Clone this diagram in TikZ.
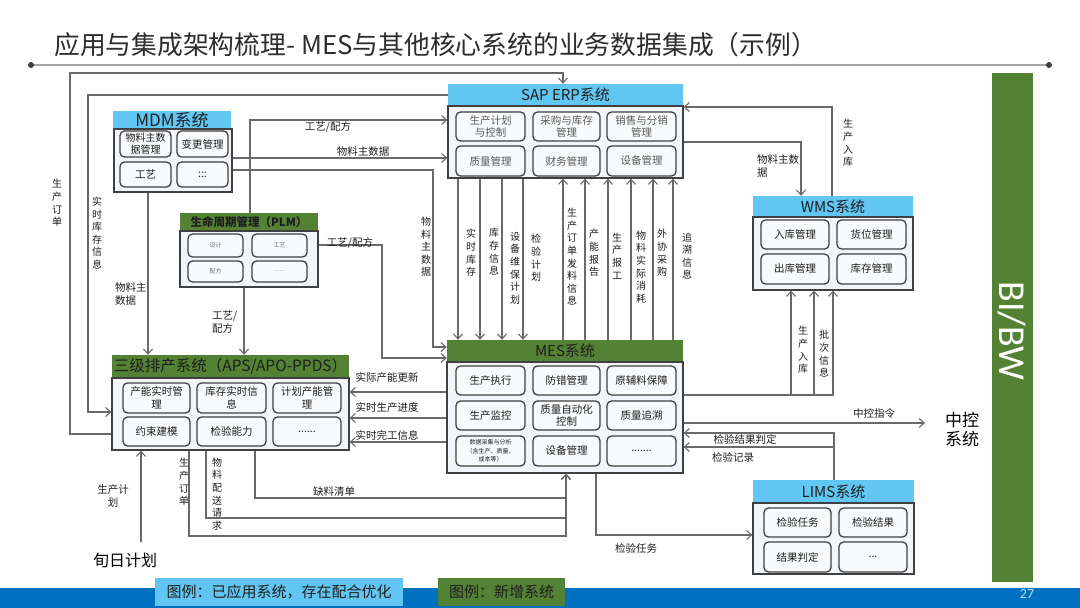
\documentclass[tikz,border=0pt]{standalone}
\usepackage{fontspec}
\setmainfont{Noto Sans CJK SC}
\newfontfamily\latinf{Carlito}
\usetikzlibrary{arrows.meta}
\definecolor{hblue}{RGB}{98,198,243}
\definecolor{hgreen}{RGB}{84,130,53}
\definecolor{bodyf}{RGB}{242,245,250}
\definecolor{bordc}{RGB}{64,64,64}
\definecolor{linec}{RGB}{105,105,105}
\definecolor{txtc}{RGB}{30,30,30}
\definecolor{erptxt}{RGB}{90,90,90}
\definecolor{bbar}{RGB}{0,112,192}
\definecolor{titc}{RGB}{45,45,45}
\tikzset{
 hdr/.style={inner sep=0pt, align=center, text=txtc},
 hb/.style={hdr, fill=hblue},
 hg/.style={hdr, fill=hgreen},
 bodybox/.style={draw=bordc, fill=bodyf, line width=1.3pt},
 subbox/.style={draw=bordc, fill=white!45!bodyf, rounded corners=4.5pt, line width=1.3pt, inner sep=0pt, align=center, text=txtc, font=\fontsize{10.5}{12.5}\selectfont},
 arr/.style={draw=linec, line width=1.1pt, -{Straight Barb[length=5pt,width=9pt]}},
 lab/.style={inner sep=0pt, text=txtc, align=center, font=\fontsize{10.5}{13}\selectfont},
 vlab/.style={inner sep=0pt, text=txtc, align=center, font=\fontsize{10}{12.6}\selectfont},
}
\newcommand\bx[7]{\node[#1, minimum width={(#4)-(#2)}, minimum height={(#5)-(#3)}] (#6) at ({((#2)+(#4))/2},{((#3)+(#5))/2}) {#7};}
\begin{document}
\begin{tikzpicture}[x=1pt,y=-1pt]
\useasboundingbox (0,0) rectangle (1080,608);
\fill[white] (0,0) rectangle (1080,608);
% title
\node[anchor=west, inner sep=0pt, text=titc, font=\fontsize{25.8}{26}\selectfont] (title) at (54,45) {应用与集成架构梳理- MES与其他核心系统的业务数据集成（示例）};
\draw[line width=1.6pt, color=black!35] (31,65) -- (1049,65);
\fill[bordc] (31,65) circle (3pt) (1049,65) circle (3pt);
% bottom bar
\fill[bbar] (0,588) rectangle (1080,608);
\node[inner sep=0pt, text=white!75!bbar, font=\latinf\fontsize{14}{14}\selectfont] (pg) at (1027,594) {27};
\bx{hb, font=\fontsize{15}{15}\selectfont}{155}{578}{403}{606}{leg1}{图例：已应用系统，存在配合优化}
\bx{hg, font=\fontsize{15}{15}\selectfont}{438}{578}{565}{606}{leg2}{图例：新增系统}
% BI/BW
\fill[hgreen] (992,73) rectangle (1033,582);
\node[rotate=-90, inner sep=0pt, text=white, font=\latinf\fontsize{38}{38}\selectfont] (bibw) at (1012,331) {BI/BW};
% MDM
\bx{hb, font=\fontsize{17}{17}\selectfont}{113}{111}{231}{129}{mdmh}{MDM系统}
\bx{bodybox}{114}{129}{232}{192}{mdm}{}
\bx{subbox, font=\fontsize{10}{12}\selectfont}{120}{131}{171}{157}{m1}{物料主数\\据管理}
\bx{subbox}{177}{131}{228}{157}{m2}{变更管理}
\bx{subbox}{120}{162}{171}{187}{m3}{工艺}
\bx{subbox}{177}{162}{228}{187}{m4}{:::}
% PLM
\bx{hg, font=\bfseries\fontsize{11.5}{12}\selectfont}{180}{213}{318}{231}{plmh}{生命周期管理（PLM）}
\bx{bodybox}{180}{231}{318}{287}{plm}{}
\bx{subbox, text=black!55, font=\fontsize{6}{7}\selectfont}{188}{234}{243}{257}{p1}{设计}
\bx{subbox, text=black!55, font=\fontsize{6}{7}\selectfont}{252}{234}{307}{257}{p2}{工艺}
\bx{subbox, text=black!55, font=\fontsize{6}{7}\selectfont}{188}{261}{243}{282}{p3}{配方}
\bx{subbox, text=black!55, font=\fontsize{6}{7}\selectfont}{252}{261}{307}{282}{p4}{......}
% ERP
\bx{hb, font=\fontsize{15}{15}\selectfont}{448}{84}{683}{106}{erph}{SAP ERP系统}
\bx{bodybox}{448}{106}{683}{178}{erp}{}
\bx{subbox, text=erptxt}{456}{112}{525}{141}{e1}{生产计划\\与控制}
\bx{subbox, text=erptxt}{533}{112}{600}{141}{e2}{采购与库存\\管理}
\bx{subbox, text=erptxt}{607}{112}{676}{141}{e3}{销售与分销\\管理}
\bx{subbox, text=erptxt}{456}{146}{525}{176}{e4}{质量管理}
\bx{subbox, text=erptxt}{533}{146}{600}{176}{e5}{财务管理}
\bx{subbox, text=erptxt}{607}{146}{676}{176}{e6}{设备管理}
% WMS
\bx{hb, font=\fontsize{15}{15}\selectfont}{753}{196}{913}{217}{wmsh}{WMS系统}
\bx{bodybox}{753}{217}{913}{290}{wms}{}
\bx{subbox}{761}{220}{829}{249}{w1}{入库管理}
\bx{subbox}{837}{220}{906}{249}{w2}{货位管理}
\bx{subbox}{761}{254}{829}{284}{w3}{出库管理}
\bx{subbox}{837}{254}{906}{284}{w4}{库存管理}
% MES
\bx{hg, font=\fontsize{15}{15}\selectfont}{447}{340}{683}{362}{mesh}{MES系统}
\bx{bodybox}{447}{362}{683}{473}{mes}{}
\bx{subbox}{456}{366}{525}{395}{s1}{生产执行}
\bx{subbox}{533}{366}{600}{395}{s2}{防错管理}
\bx{subbox}{607}{366}{676}{395}{s3}{原辅料保障}
\bx{subbox}{456}{401}{525}{430}{s4}{生产监控}
\bx{subbox}{533}{401}{600}{430}{s5}{质量自动化\\控制}
\bx{subbox}{607}{401}{676}{430}{s6}{质量追溯}
\bx{subbox, font=\fontsize{6}{8.5}\selectfont}{456}{436}{525}{466}{s7}{数据采集与分析\\（含生产、质量、\\成本等）}
\bx{subbox}{533}{436}{600}{466}{s8}{设备管理}
\bx{subbox}{607}{436}{676}{466}{s9}{.......}
% APS
\bx{hg, font=\fontsize{15.5}{16}\selectfont}{112}{355}{349}{378}{apsh}{三级排产系统（APS/APO-PPDS）}
\bx{bodybox}{112}{378}{349}{450}{aps}{}
\bx{subbox}{123}{383}{190}{413}{a1}{产能实时管\\理}
\bx{subbox}{197}{383}{266}{413}{a2}{库存实时信\\息}
\bx{subbox}{273}{383}{341}{413}{a3}{计划产能管\\理}
\bx{subbox}{123}{417}{190}{446}{a4}{约束建模}
\bx{subbox}{197}{417}{266}{446}{a5}{检验能力}
\bx{subbox}{273}{417}{341}{446}{a6}{......}
% LIMS
\bx{hb, font=\fontsize{15}{15}\selectfont}{753}{480}{914}{503}{limsh}{LIMS系统}
\bx{bodybox}{753}{503}{914}{574}{lims}{}
\bx{subbox}{764}{508}{831}{537}{l1}{检验任务}
\bx{subbox}{839}{508}{907}{537}{l2}{检验结果}
\bx{subbox}{764}{542}{831}{572}{l3}{结果判定}
\bx{subbox}{839}{542}{907}{572}{l4}{...}
% free texts
\node[inner sep=0pt, align=center, text=black, font=\fontsize{17}{19}\selectfont] (zk) at (962,430) {中控\\系统};
\node[inner sep=0pt, text=black, font=\fontsize{16}{16}\selectfont] (xr) at (125,560) {旬日计划};
\coordinate (zkin) at (925,423);
% connectors left
\draw[arr] (aps.west |- 0,434) -| (70,73) -| (erph.north -| 563,0);
\draw[arr] (erph.west |- 0,95) -| (88,412) -- (aps.west |- 0,412);
\draw[arr] (mdm.south -| 148,0) -- (apsh.north -| 148,0);
\draw[arr] (plmh.north -| 250,0) |- (erp.west |- 0,120);
\draw[arr] (mdm.east |- 0,158) -- (erp.west |- 0,158);
\draw[arr] (mdm.east |- 0,170) -| (433,347) -- (mesh.west |- 0,347);
\draw[arr] (plm.east |- 0,245) -| (382,358) -- (mesh.west |- 0,358);
\draw[arr] (plm.south -| 244,0) -- (apsh.north -| 244,0);
% MES -> APS
\draw[arr] (mes.west |- 0,392) -- (aps.east |- 0,392);
\draw[arr] (mes.west |- 0,418) -- (aps.east |- 0,418);
\draw[arr] (mes.west |- 0,442) -- (aps.east |- 0,442);
% ERP <-> MES
\foreach \xx in {458,480,502,523} \draw[arr] (erp.south -| \xx,0) -- (mesh.north -| \xx,0);
\foreach \xx in {563,585,608,631,653,673} \draw[arr] (mesh.north -| \xx,0) -- (erp.south -| \xx,0);
% ERP <-> WMS
\draw[arr] (erp.east |- 0,142) -| (wmsh.north -| 801,0);
\draw[arr] (wmsh.north -| 832,0) |- (erp.east |- 0,107);
% MES -> WMS
\draw[arr] (mes.east |- 0,395) -| (wms.south -| 791,0);
\draw[arr] (mes.east |- 0,395) -| (wms.south -| 814,0);
\draw[arr] (mes.east |- 0,395) -| (wms.south -| 833,0);
% MES -> 中控
\draw[arr] (mes.east |- 0,423) -- (zkin);
% LIMS <-> MES
\draw[arr] (limsh.north -| 834,0) |- (mes.east |- 0,433);
\draw[arr] (limsh.north -| 834,0) |- (mes.east |- 0,447);
\draw[arr] (mes.south -| 596,0) |- (lims.west |- 0,535);
% APS -> MES bottom
\draw[arr] (aps.south -| 255,0) |- (566,498) -- (mes.south -| 566,0);
\draw[arr] (aps.south -| 206,0) |- (566,518) -- (mes.south -| 566,0);
\draw[arr] (aps.south -| 189,0) |- (566,536) -- (mes.south -| 566,0);
\draw[arr] (xr.north -| 141,0) ++(0,-10) -- (aps.south -| 141,0);
% labels
\node[vlab] (t1) at (57,203) {生\\产\\订\\单};
\node[vlab] (t2) at (97,233) {实\\时\\库\\存\\信\\息};
\node[lab, anchor=west, align=left] (t3) at (115,294) {物料主\\数据};
\node[lab] (t4) at (328,127) {工艺/配方};
\node[lab] (t5) at (363,152) {物料主数据};
\node[vlab] (t6) at (426,247) {物\\料\\主\\数\\据};
\node[lab] (t7) at (350,243) {工艺/配方};
\node[lab, anchor=west, align=left] (t8) at (212,322) {工艺/\\配方};
\node[vlab] (t9) at (471,253) {实\\时\\库\\存};
\node[vlab] (t10) at (494,252) {库\\存\\信\\息};
\node[vlab] (t11) at (515,268) {设\\备\\维\\保\\计\\划};
\node[vlab] (t12) at (536,258) {检\\验\\计\\划};
\node[vlab] (t13) at (572,257) {生\\产\\订\\单\\发\\料\\信\\息};
\node[vlab] (t14) at (594,253) {产\\能\\报\\告};
\node[vlab] (t15) at (617,256) {生\\产\\报\\工};
\node[vlab] (t16) at (641,267) {物\\料\\实\\际\\消\\耗};
\node[vlab] (t17) at (662,253) {外\\协\\采\\购};
\node[vlab] (t18) at (687,256) {追\\溯\\信\\息};
\node[lab, anchor=west, align=left] (t19) at (757,166) {物料主数\\据};
\node[vlab] (t20) at (848,143) {生\\产\\入\\库};
\node[vlab] (t21) at (803,350) {生\\产\\入\\库};
\node[vlab] (t22) at (824,354) {批\\次\\信\\息};
\node[lab] (t23) at (874,414) {中控指令};
\node[lab] (t24) at (745,440) {检验结果判定};
\node[lab] (t25) at (733,457) {检验记录};
\node[lab] (t26) at (636,548) {检验任务};
\node[lab] (t27) at (387,378) {实际产能更新};
\node[lab] (t28) at (387,408) {实时生产进度};
\node[lab] (t29) at (387,435) {实时完工信息};
\node[lab] (t30) at (334,491) {缺料清单};
\node[vlab] (t31) at (217,494) {物\\料\\配\\送\\请\\求};
\node[vlab] (t32) at (184,482) {生\\产\\订\\单};
\node[lab] (t33) at (113,496) {生产计\\划};
\end{tikzpicture}
\end{document}
